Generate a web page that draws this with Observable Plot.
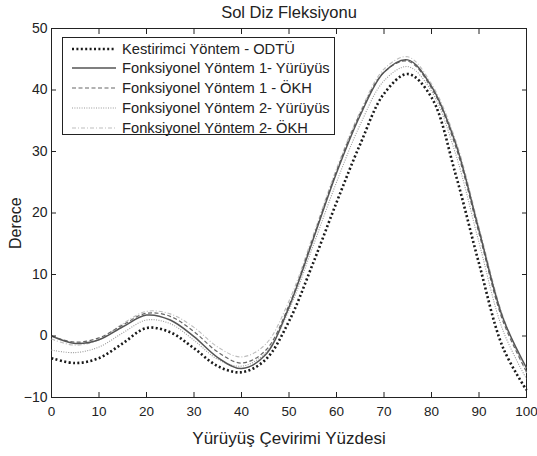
<!DOCTYPE html>
<html>
<head>
<meta charset="utf-8">
<script src="https://cdn.jsdelivr.net/npm/d3@7"></script>
<script src="https://cdn.jsdelivr.net/npm/@observablehq/plot@0.6"></script>
<style>
  html, body { margin: 0; padding: 0; background: #fff; }
  body { width: 537px; height: 456px; position: relative; overflow: hidden; font-family: "Liberation Sans", Arial, sans-serif; }
  #chart { position: absolute; left: 0; top: 0; }
  #legend { position: absolute; left: 62px; top: 37px; width: 273px; height: 98px; border: 1px solid #222; background: #fff; box-sizing: border-box; }
  .row { position: absolute; left: 0; height: 18px; display: flex; align-items: center; font-size: 14.7px; color: #222; white-space: nowrap; }
  .row svg { margin-left: 9px; margin-right: 6px; }
</style>
</head>
<body>
<div id="chart"></div>
<div id="legend"></div>
<script>
// Gait cycle percentage (x)
const xPct = [0, 5, 10, 15, 20, 25, 30, 35, 40, 45, 50, 55, 60, 65, 70, 75, 80, 85, 90, 95, 100];

// Knee flexion angles (degrees)
const kestirimciODTU   = [-3.6, -4.4, -3.6, -1.2, 1.3, 0.6, -2.0, -4.9, -5.9, -3.9, 2.4, 11.7, 21.7, 31.2, 39.4, 42.6, 38.8, 26.5, 11.8, -1.8, -8.8];
const fonk1Yuruyus     = [0.0, -1.2, -0.6, 1.5, 3.4, 2.6, -0.1, -3.5, -5.3, -3.1, 4.7, 15.5, 26.5, 35.9, 42.9, 44.9, 40.6, 31.5, 17.2, 3.0, -5.2];
const fonk1OKH         = [0.0, -1.0, -0.3, 1.8, 3.7, 3.2, 0.7, -2.6, -4.4, -2.4, 5.0, 15.8, 26.8, 36.2, 42.9, 44.7, 40.3, 31.0, 16.7, 2.5, -5.8];
const fonk2Yuruyus     = [-2.3, -2.7, -1.8, 0.5, 2.6, 2.0, -0.7, -3.8, -4.9, -2.8, 4.2, 14.5, 25.0, 34.4, 41.5, 43.8, 39.8, 29.8, 15.2, 1.0, -7.0];
const fonk2OKH         = [-0.5, -1.5, -0.6, 2.0, 4.0, 3.6, 1.4, -1.8, -3.4, -1.4, 5.7, 16.2, 27.2, 36.5, 43.4, 45.4, 41.0, 32.0, 17.7, 3.3, -6.0];

const seriesNames = [
  "Kestirimci Yöntem - ODTÜ",
  "Fonksiyonel Yöntem 1- Yürüyüs",
  "Fonksiyonel Yöntem 1 - ÖKH",
  "Fonksiyonel Yöntem 2- Yürüyüs",
  "Fonksiyonel Yöntem 2- ÖKH"
];
const seriesValues = [kestirimciODTU, fonk1Yuruyus, fonk1OKH, fonk2Yuruyus, fonk2OKH];

const xTicks = [0, 10, 20, 30, 40, 50, 60, 70, 80, 90, 100];
const yTicks = [-10, 0, 10, 20, 30, 40, 50];

const titleText = "Sol Diz Fleksiyonu";
const xLabel = "Yürüyüş Çevirimi Yüzdesi";
const yLabel = "Derece";

// Styles
const styles = [
  {stroke: "#1a1a1a", strokeWidth: 2.6, strokeDasharray: "2,2.4"},
  {stroke: "#555", strokeWidth: 1.5, strokeDasharray: null},
  {stroke: "#666", strokeWidth: 1.2, strokeDasharray: "4,2.5"},
  {stroke: "#9a9a9a", strokeWidth: 1.1, strokeDasharray: "1,1.4"},
  {stroke: "#bdbdbd", strokeWidth: 1.1, strokeDasharray: "4,2,1,2"}
];

const tables = seriesValues.map((vals, i) => xPct.map((x, j) => ({x, y: vals[j], series: seriesNames[i]})));

// Draw order: lightest first, dotted black last
const order = [4, 3, 2, 1, 0];
const lineMarks = order.map(i => Plot.line(tables[i], {
  x: "x", y: "y", curve: "catmull-rom",
  stroke: styles[i].stroke, strokeWidth: styles[i].strokeWidth,
  strokeDasharray: styles[i].strokeDasharray || undefined,
  strokeLinecap: "butt"
}));

const chart = Plot.plot({
  width: 537,
  height: 456,
  marginLeft: 51,
  marginRight: 11,
  marginTop: 28,
  marginBottom: 59,
  style: {fontFamily: "Liberation Sans, Arial, sans-serif", color: "#222", background: "transparent", overflow: "visible"},
  x: {domain: [0, 100]},
  y: {domain: [-10, 50]},
  marks: [
    Plot.frame({stroke: "#222", strokeWidth: 1}),
    ...lineMarks,
    Plot.axisX(xTicks, {anchor: "bottom", tickSize: -5, tickPadding: 14, fontSize: 13.5, label: null, stroke: "#222"}),
    Plot.axisX(xTicks, {anchor: "top", tickSize: -5, tickFormat: () => "", label: null, stroke: "#222"}),
    Plot.axisY(yTicks, {anchor: "left", tickSize: -5, tickPadding: 9, fontSize: 14, label: null, stroke: "#222"}),
    Plot.axisY(yTicks, {anchor: "right", tickSize: -5, tickFormat: () => "", label: null, stroke: "#222"}),
    Plot.text([titleText], {frameAnchor: "top", dy: -16, fontSize: 16.5, fill: "#222", lineAnchor: "middle"}),
    Plot.text([xLabel], {frameAnchor: "bottom", dy: 41, fontSize: 17, fill: "#222", lineAnchor: "middle"}),
    Plot.text([yLabel], {frameAnchor: "left", dx: -36, dy: 36, rotate: -90, fontSize: 16, fill: "#222", lineAnchor: "middle"})
  ]
});
document.getElementById("chart").appendChild(chart);

// Legend
const legend = document.getElementById("legend");
const rowTops = [2, 21, 41, 61, 81];
seriesNames.forEach((name, i) => {
  const row = document.createElement("div");
  row.className = "row";
  row.style.top = rowTops[i] + "px";
  const s = styles[i];
  row.innerHTML = `<svg width="44" height="10"><line x1="0" y1="5" x2="44" y2="5" stroke="${s.stroke}" stroke-width="${s.strokeWidth}" ${s.strokeDasharray ? `stroke-dasharray="${s.strokeDasharray}"` : ""}/></svg><span>${name}</span>`;
  legend.appendChild(row);
});
</script>
</body>
</html>
